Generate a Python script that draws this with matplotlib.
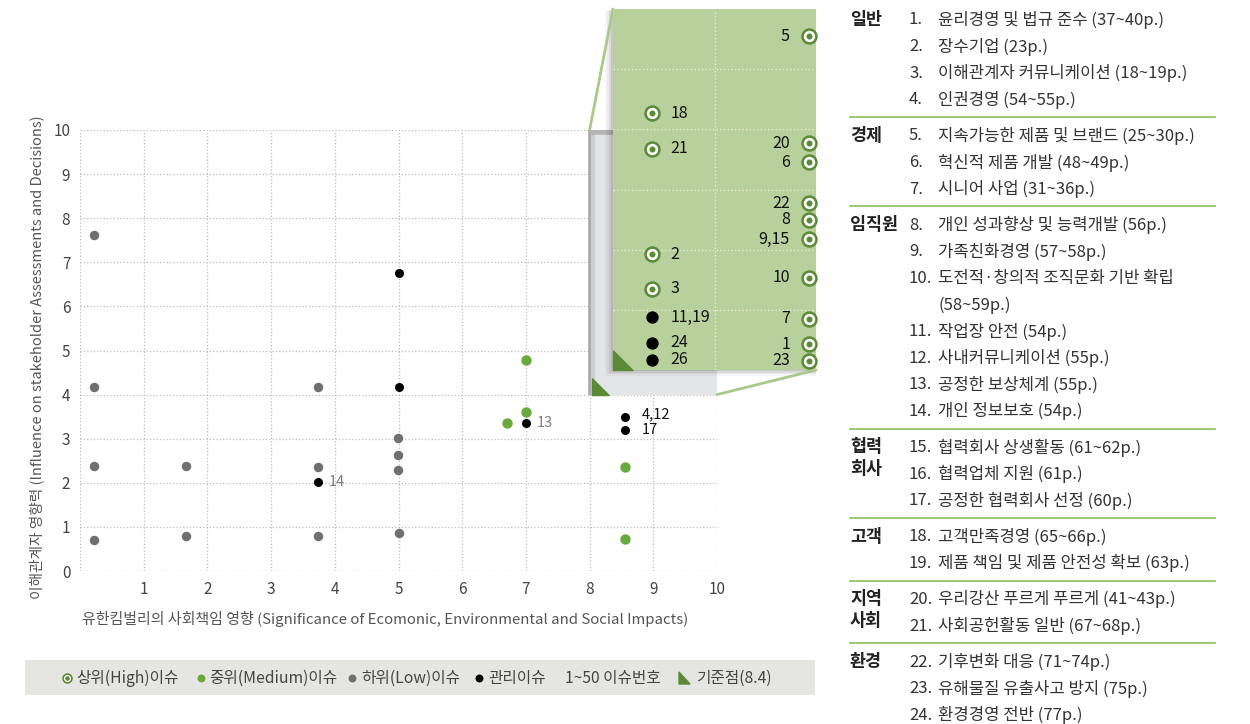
import numpy as np
import matplotlib.pyplot as plt
from matplotlib.patches import Rectangle, ConnectionPatch
from matplotlib.path import Path

plt.rcParams['font.family'] = ['Noto Sans CJK KR', 'DejaVu Sans']

# low issues (grey)
low_x = [0.22, 0.22, 0.22, 0.22, 1.66, 1.66, 3.74, 3.74, 3.74, 4.99, 4.99, 4.99, 5.0]
low_y = [7.63, 4.18, 2.37, 0.70, 2.37, 0.79, 4.18, 2.35, 0.79, 3.02, 2.62, 2.28, 0.86]
# medium issues (green)
mid_x = [7.0, 7.0, 6.7, 8.55, 8.55]
mid_y = [4.79, 3.61, 3.36, 2.35, 0.72]
# management issues (black) in main plot
mgmt_x = [5.0, 5.0, 3.74, 7.0, 8.55, 8.55]
mgmt_y = [6.75, 4.18, 2.01, 3.36, 3.50, 3.20]
mgmt_lab = ['', '', '14', '13', '4,12', '17']
# inset: high issues
high_x = [9.93, 8.38, 8.38, 9.93, 9.93, 9.93, 9.93, 9.93, 8.38, 9.93, 8.38, 9.93, 9.93, 9.93]
high_y = [9.55, 8.27, 7.68, 7.77, 7.45, 6.77, 6.50, 6.17, 5.92, 5.53, 5.35, 4.85, 4.43, 4.15]
high_lab = ['5', '18', '21', '20', '6', '22', '8', '9,15', '2', '10', '3', '7', '1', '23']
# inset: management issues
imgmt_x = [8.38, 8.38, 8.38]
imgmt_y = [4.88, 4.45, 4.17]
imgmt_lab = ['11,19', '24', '26']

base_x, base_y = 8.0, 4.0

groups = ['일반', '경제', '임직원', '협력\n회사', '고객', '지역\n사회', '환경']
group_sizes = [4, 3, 7, 3, 2, 2, 3]
items = ['윤리경영 및 법규 준수 (37~40p.)', '장수기업 (23p.)', '이해관계자 커뮤니케이션 (18~19p.)',
         '인권경영 (54~55p.)', '지속가능한 제품 및 브랜드 (25~30p.)', '혁신적 제품 개발 (48~49p.)',
         '시니어 사업 (31~36p.)', '개인 성과향상 및 능력개발 (56p.)', '가족친화경영 (57~58p.)',
         '도전적·창의적 조직문화 기반 확립\n(58~59p.)', '작업장 안전 (54p.)', '사내커뮤니케이션 (55p.)',
         '공정한 보상체계 (55p.)', '개인 정보보호 (54p.)', '협력회사 상생활동 (61~62p.)',
         '협력업체 지원 (61p.)', '공정한 협력회사 선정 (60p.)', '고객만족경영 (65~66p.)',
         '제품 책임 및 제품 안전성 확보 (63p.)', '우리강산 푸르게 푸르게 (41~43p.)',
         '사회공헌활동 일반 (67~68p.)', '기후변화 대응 (71~74p.)', '유해물질 유출사고 방지 (75p.)',
         '환경경영 전반 (77p.)']

GREEN_D = '#5a8a35'
GREEN_M = '#6aaa3c'
GREY = '#707070'
W, H = 1250, 724

fig = plt.figure(figsize=(W / 100, H / 100), dpi=100)


def box(l, t, r, b):
    return [l / W, 1 - b / H, (r - l) / W, (b - t) / H]


bg = fig.add_axes([0, 0, 1, 1], zorder=0)
bg.set_xlim(0, W)
bg.set_ylim(H, 0)
bg.axis('off')

# main scatter
ax = fig.add_axes(box(80, 130, 717, 571), zorder=1)
ax.patch.set_alpha(0)
ax.set_xlim(0, 10)
ax.set_ylim(0, 10)
ax.set_xticks(range(11))
ax.set_yticks(range(11))
ax.set_xticklabels([''] + [str(i) for i in range(1, 11)])
ax.grid(True, ls=':', color='#bdbdbd', lw=0.9)
for s in ax.spines.values():
    s.set_visible(False)
ax.tick_params(length=0, labelsize=11, labelcolor='#444')
ax.tick_params(axis='x', pad=7)
ax.tick_params(axis='y', pad=7)

ax.scatter(low_x, low_y, s=34, color=GREY, zorder=4, clip_on=False)
ax.scatter(mid_x, mid_y, s=42, color=GREEN_M, zorder=4)
ax.scatter(mgmt_x, mgmt_y, s=30, color='black', zorder=4)
for x, y, t in zip(mgmt_x, mgmt_y, mgmt_lab):
    if not t:
        continue
    dark = x > 8
    dy = 2 if ',' in t else 0
    ax.annotate(t, (x, y), xytext=(17 if dark else 11, dy), textcoords='offset pixels',
                va='center', fontsize=10.5, color='#111' if dark else '#808080')

# zoomed region
ax.add_patch(Rectangle((base_x, base_y), 10 - base_x, 10 - base_y, fc='#e4e5e7', ec='none', zorder=5))
ax.plot([base_x + 0.02, base_x + 0.02], [base_y, 10], color='#a8a8a8', lw=4, zorder=6, solid_capstyle='butt')
ax.plot([base_x + 0.06, base_x + 0.06], [base_y, 9.9], color='#cfcfd1', lw=3, zorder=6, solid_capstyle='butt')
ax.plot([base_x, 10], [9.95, 9.95], color='#b5b5b5', lw=4, zorder=6, solid_capstyle='butt')
tri = Path([(0, 0), (1, 0), (0, 1), (0, 0)])
ax.plot(base_x + 0.03, base_y, marker=tri, markersize=24, color=GREEN_D, zorder=7, clip_on=False)

# inset shadow
for i, a in enumerate([0.05, 0.07, 0.1, 0.14]):
    d = 8 - 2 * i
    fig.add_artist(Rectangle(((613 - d) / W, 1 - (370 + d * 0.7) / H), (203 + d) / W, (361 + d * 0.5) / H,
                             transform=fig.transFigure, fc='#555555', ec='none', alpha=a, zorder=2))

axins = fig.add_axes(box(613, 9, 816, 370), zorder=3)
axins.set_facecolor('#b8d09b')
axins.set_xlim(8, 10)
axins.set_ylim(4, 10)
axins.set_xticks([9])
axins.set_yticks([5, 6, 7, 8, 9])
axins.grid(True, ls=':', color='#e6eedb', lw=1)
axins.tick_params(length=0, labelbottom=False, labelleft=False)
for s in axins.spines.values():
    s.set_visible(False)
axins.scatter(high_x, high_y, s=100, fc='white', ec=GREEN_D, lw=1.8, zorder=4, clip_on=False)
axins.scatter(high_x, high_y, s=11, color=GREEN_D, zorder=5, clip_on=False)
for x, y, t in zip(high_x, high_y, high_lab):
    right = x > 9
    axins.annotate(t, (x, y), xytext=(-19 if right else 19, 0), textcoords='offset pixels',
                   ha='right' if right else 'left', va='center', fontsize=11.5, color='#111')
axins.scatter(imgmt_x, imgmt_y, s=62, color='black', zorder=4)
for x, y, t in zip(imgmt_x, imgmt_y, imgmt_lab):
    axins.annotate(t, (x, y), xytext=(19, 0), textcoords='offset pixels',
                   va='center', fontsize=11.5, color='#111')
axins.plot(base_x, base_y, marker=tri, markersize=28, color=GREEN_D, zorder=6, clip_on=False)

for pa, pb in [((base_x, 10), (0, 1)), ((10, base_y), (1, 0))]:
    fig.add_artist(ConnectionPatch(xyA=pa, coordsA=ax.transData, xyB=pb, coordsB=axins.transAxes,
                                   color='#a9c98b', lw=2, zorder=2.5))

# axis titles
bg.text(37, 357, '이해관계자 영향력 (Influence on stakeholder Assessments and Decisions)', rotation=90,
        ha='center', va='center', fontsize=10.6, color='#555')
bg.text(385, 619, '유한킴벌리의 사회책임 영향 (Significance of Ecomonic, Environmental and Social Impacts)',
        ha='center', va='center', fontsize=10.8, color='#555')

# legend bar
bg.add_patch(Rectangle((25, 660), 790, 35, fc='#e5e5e1', ec='none'))
ly = 678
bg.scatter([67], [ly], s=40, fc='white', ec=GREEN_D, lw=1.2)
bg.scatter([67], [ly], s=5, color=GREEN_D)
bg.scatter([201], [ly], s=22, color=GREEN_M)
bg.scatter([352], [ly], s=22, color=GREY)
bg.scatter([479], [ly], s=22, color='black')
bg.fill([679, 690, 679], [684, 684, 672], color=GREEN_D)
for x, t in [(76, '상위(High)이슈'), (209, '중위(Medium)이슈'), (361, '하위(Low)이슈'),
             (488, '관리이슈'), (565, '1~50 이슈번호'), (696, '기준점(8.4)')]:
    bg.text(x, ly, t, va='center', fontsize=11.3, color='#444')

# issue list
row = 0
for gi, (g, n) in enumerate(zip(groups, group_sizes)):
    y0 = 20 + 26.6 * row + 9.5 * gi
    for k, gl in enumerate(g.split('\n')):
        bg.text(850, y0 + 22 * k, gl, va='center', fontsize=12.5, fontweight='bold', color='#222')
    for j in range(n):
        num = sum(group_sizes[:gi]) + j + 1
        y = 20 + 26.6 * row + 9.5 * gi
        lines = items[num - 1].split('\n')
        bg.text(909, y, f'{num}.', va='center', fontsize=12, color='#333')
        for k, ln in enumerate(lines):
            bg.text(938, y + 26.6 * k, ln, va='center', fontsize=12, color='#333')
        row += len(lines)
    if gi < len(groups) - 1:
        ysep = 20 + 26.6 * row + 9.5 * (gi + 1) - 19
        bg.plot([850, 1215], [ysep, ysep], color='#8cc05a', lw=1.2)

fig.savefig('out.png', dpi=100)
